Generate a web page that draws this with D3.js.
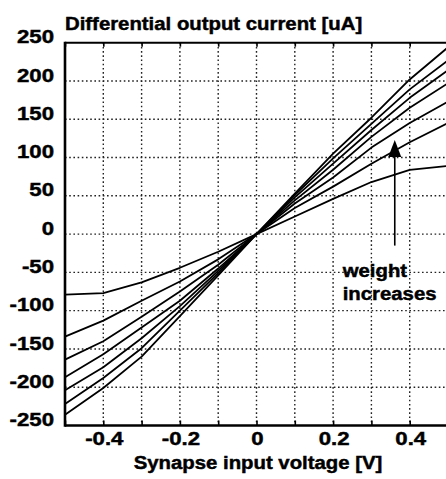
<!DOCTYPE html>
<html>
<head>
<meta charset="utf-8">
<script src="https://cdn.jsdelivr.net/npm/d3@7"></script>
<style>
  html, body { margin: 0; padding: 0; background: #fff; }
  svg { display: block; }
  text { font-family: "Liberation Sans", Arial, sans-serif; font-weight: bold; fill: #000; stroke: #000; stroke-width: 0.45px; }
</style>
</head>
<body>
<svg id="chart" width="446" height="479"></svg>
<script>
// input voltage [V]
const voltages = [-0.5, -0.4, -0.3, -0.2, -0.1, 0, 0.1, 0.2, 0.3, 0.4, 0.5];

// differential output current [uA], one curve per weight (weakest first)
const weight1 = [-79, -77, -63, -44, -23, 0, 23, 46, 68, 84, 89];
const weight2 = [-134, -113, -87, -62, -33, 0, 34, 62, 92, 120, 145];
const weight3 = [-164, -140, -108, -75, -40, 0, 40, 74, 113, 145, 173];
const weight4 = [-187, -157, -122, -87, -45, 0, 44, 84, 127, 165, 197];
const weight5 = [-204, -174, -136, -94, -48, 0, 48, 92, 136, 178, 214];
const weight6 = [-222, -188, -149, -100, -51, 0, 51, 99, 144, 189, 227];
const weight7 = [-236, -201, -160, -107, -54, 0, 53, 105, 152, 202, 244];
const curves = [weight1, weight2, weight3, weight4, weight5, weight6, weight7];

const xTicks = [-0.5, -0.4, -0.3, -0.2, -0.1, 0, 0.1, 0.2, 0.3, 0.4, 0.5];
const xLabels = [-0.4, -0.2, 0, 0.2, 0.4];
const yTicks = [250, 200, 150, 100, 50, 0, -50, -100, -150, -200, -250];

// annotation "weight increases" (data units)
const arrowV = 0.361, arrowFrom = -15, arrowTip = 123;
const noteV = 0.225, noteLines = [["weight", -56], ["increases", -86]];

const svg = d3.select("#chart");
const x = d3.scaleLinear().domain([-0.5, 0.5]).range([65, 448]);
const y = d3.scaleLinear().domain([-250, 250]).range([425.5, 42.7]);

// dotted grid
const grid = svg.append("g")
    .attr("stroke", "#222")
    .attr("stroke-width", 1.4)
    .attr("stroke-dasharray", "1.6,2.6");
grid.selectAll(".gx")
    .data(xTicks.filter(d => d > -0.5 && d < 0.5))
    .enter().append("line")
    .attr("x1", d => x(d)).attr("x2", d => x(d))
    .attr("y1", y(250)).attr("y2", y(-250));
grid.selectAll(".gy")
    .data(yTicks.filter(d => d > -250 && d < 250))
    .enter().append("line")
    .attr("x1", x(-0.5)).attr("x2", x(0.5))
    .attr("y1", d => y(d)).attr("y2", d => y(d));

// small inward ticks on bottom and top
svg.append("g")
    .attr("transform", `translate(0,${y(-250)})`)
    .call(d3.axisBottom(x).tickValues(xTicks).tickSize(-5).tickFormat(""))
    .call(g => g.select(".domain").remove())
    .call(g => g.selectAll("line").attr("stroke", "#000").attr("stroke-width", 1.6));
svg.append("g")
    .attr("transform", `translate(0,${y(250)})`)
    .call(d3.axisTop(x).tickValues(xTicks).tickSize(-4).tickFormat(""))
    .call(g => g.select(".domain").remove())
    .call(g => g.selectAll("line").attr("stroke", "#000").attr("stroke-width", 1.6));

// frame
svg.append("line")
    .attr("x1", x(-0.5)).attr("x2", x(0.5))
    .attr("y1", y(250)).attr("y2", y(250))
    .attr("stroke", "#000").attr("stroke-width", 2);
svg.append("line")
    .attr("x1", x(-0.5)).attr("x2", x(0.5))
    .attr("y1", y(-250)).attr("y2", y(-250))
    .attr("stroke", "#000").attr("stroke-width", 2.6);
svg.append("line")
    .attr("x1", x(-0.5)).attr("x2", x(-0.5))
    .attr("y1", y(250) - 1).attr("y2", y(-250) + 1.3)
    .attr("stroke", "#000").attr("stroke-width", 2.6);

// curves
const line = d3.line()
    .x((d, i) => x(voltages[i]))
    .y(d => y(d));
svg.append("g")
    .selectAll("path")
    .data(curves)
    .enter().append("path")
    .attr("d", d => line(d))
    .attr("fill", "none")
    .attr("stroke", "#000")
    .attr("stroke-width", 1.8)
    .attr("stroke-linejoin", "round");

// y tick labels
svg.append("g")
    .selectAll("text")
    .data(yTicks)
    .enter().append("text")
    .attr("transform", d => `translate(54,${y(d) - 6}) scale(1.2,1)`)
    .attr("text-anchor", "end")
    .attr("dy", "0.36em")
    .style("font-size", "18.5px")
    .text(d => d);

// x tick labels
svg.append("g")
    .selectAll("text")
    .data(xLabels)
    .enter().append("text")
    .attr("transform", d => `translate(${x(d) + 1},445) scale(1.2,1)`)
    .attr("text-anchor", "middle")
    .style("font-size", "18.5px")
    .text(d => d);

// titles
svg.append("text")
    .attr("transform", "translate(65,29.5) scale(1.1,1)")
    .style("font-size", "18.5px")
    .text("Differential output current [uA]");
svg.append("text")
    .attr("transform", "translate(258,468.5) scale(1.1,1)")
    .attr("text-anchor", "middle")
    .style("font-size", "18.5px")
    .text("Synapse input voltage [V]");

// arrow + note
svg.append("line")
    .attr("x1", x(arrowV)).attr("x2", x(arrowV))
    .attr("y1", y(arrowFrom)).attr("y2", y(arrowTip) + 10)
    .attr("stroke", "#000").attr("stroke-width", 1.6);
svg.append("path")
    .attr("d", `M${x(arrowV)},${y(arrowTip)} L${x(arrowV) - 6.5},${y(arrowTip) + 17} L${x(arrowV) + 6.5},${y(arrowTip) + 17} Z`)
    .attr("fill", "#000");
svg.append("g")
    .selectAll("text")
    .data(noteLines)
    .enter().append("text")
    .attr("transform", d => `translate(${x(noteV)},${y(d[1])}) scale(1.1,1)`)
    .style("font-size", "18.5px")
    .text(d => d[0]);
</script>
</body>
</html>
